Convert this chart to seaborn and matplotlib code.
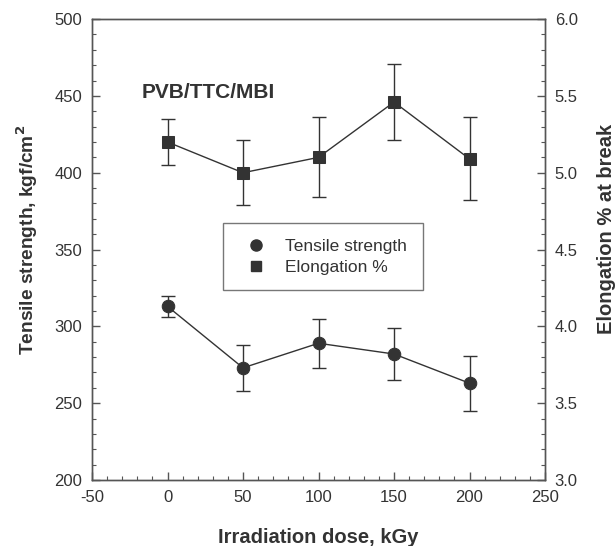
import numpy as np
import pandas as pd
import matplotlib
matplotlib.use("Agg")
import matplotlib.pyplot as plt
import seaborn as sns
from matplotlib.lines import Line2D
from matplotlib.ticker import MultipleLocator, FormatStrFormatter

# data
dose = [0, 50, 100, 150, 200]
tensile = [313, 273, 289, 282, 263]
tensile_lo = [306, 258, 273, 265, 245]
tensile_hi = [320, 288, 305, 299, 281]
elong = [5.20, 5.00, 5.10, 5.46, 5.09]
elong_lo = [5.05, 4.79, 4.84, 5.21, 4.82]
elong_hi = [5.35, 5.21, 5.36, 5.71, 5.36]

df = pd.DataFrame({"dose": dose, "tensile": tensile, "elong": elong})

sns.set_style("ticks")
plt.rcParams["font.family"] = ["Liberation Sans", "DejaVu Sans"]
plt.rcParams["axes.unicode_minus"] = False

ink = "#333333"
spine_col = "#555555"

fig = plt.figure(figsize=(6.15, 5.46), dpi=100)
ax = fig.add_axes([0.1496, 0.1209, 0.7366, 0.8441])
ax2 = ax.twinx()

# tensile strength (left axis)
ax.errorbar(dose, tensile,
            yerr=[np.subtract(tensile, tensile_lo), np.subtract(tensile_hi, tensile)],
            fmt="none", ecolor=ink, elinewidth=1.0, capsize=5, capthick=1.0, zorder=2)
sns.lineplot(data=df, x="dose", y="tensile", ax=ax, color=ink, linewidth=1.0,
             marker="o", markersize=9, markeredgecolor=ink, markerfacecolor=ink, zorder=3)

# elongation (right axis)
ax2.errorbar(dose, elong,
             yerr=[np.subtract(elong, elong_lo), np.subtract(elong_hi, elong)],
             fmt="none", ecolor=ink, elinewidth=1.0, capsize=5, capthick=1.0, zorder=2)
sns.lineplot(data=df, x="dose", y="elong", ax=ax2, color=ink, linewidth=1.0,
             marker="s", markersize=8, markeredgecolor=ink, markerfacecolor=ink, zorder=3)

ax.set_xlim(-50, 250)
ax.set_ylim(200, 500)
ax2.set_ylim(3.0, 6.0)

ax.xaxis.set_major_locator(MultipleLocator(50))
ax.xaxis.set_minor_locator(MultipleLocator(10))
ax.yaxis.set_major_locator(MultipleLocator(50))
ax.yaxis.set_minor_locator(MultipleLocator(10))
ax2.yaxis.set_major_locator(MultipleLocator(0.5))
ax2.yaxis.set_minor_locator(MultipleLocator(0.1))
ax2.yaxis.set_major_formatter(FormatStrFormatter("%.1f"))

for a in (ax, ax2):
    for s in a.spines.values():
        s.set_color(spine_col)
        s.set_linewidth(1.0)
    a.tick_params(which="both", direction="in", color=spine_col, labelcolor=ink, labelsize=12)
    a.tick_params(which="major", length=6, width=1.0, pad=7)
    a.tick_params(which="minor", length=3, width=0.8)

ax.set_xlabel("Irradiation dose, kGy", fontsize=14.5, fontweight="bold", color=ink)
ax.set_ylabel("Tensile strength, kgf/cm$^\\mathbf{2}$", fontsize=13.8, fontweight="bold",
              color=ink)
ax2.set_ylabel("Elongation % at break", fontsize=14.5, fontweight="bold", color=ink,
               rotation=90)
ax.xaxis.set_label_coords(0.5, -0.105)
ax.yaxis.set_label_coords(-0.114, 0.52)
ax2.yaxis.set_label_coords(1.115, 0.544)

ax.text(0.11, 0.84, "PVB/TTC/MBI", transform=ax.transAxes, fontsize=15,
        fontweight="bold", color=ink, va="center", ha="left")

handles = [
    Line2D([], [], linestyle="none", marker="o", markersize=8, color=ink),
    Line2D([], [], linestyle="none", marker="s", markersize=7, color=ink),
]
leg = ax.legend(handles, ["Tensile strength", "Elongation %"], loc="upper left",
                bbox_to_anchor=(0.289, 0.558), fontsize=12.5, frameon=True, fancybox=False,
                edgecolor=spine_col, borderpad=0.9, handlelength=2.0, handletextpad=0.7,
                labelspacing=0.35, borderaxespad=0)
leg.get_frame().set_linewidth(1.0)
for t in leg.get_texts():
    t.set_color(ink)

fig.savefig("out.png", dpi=100, facecolor="white")
